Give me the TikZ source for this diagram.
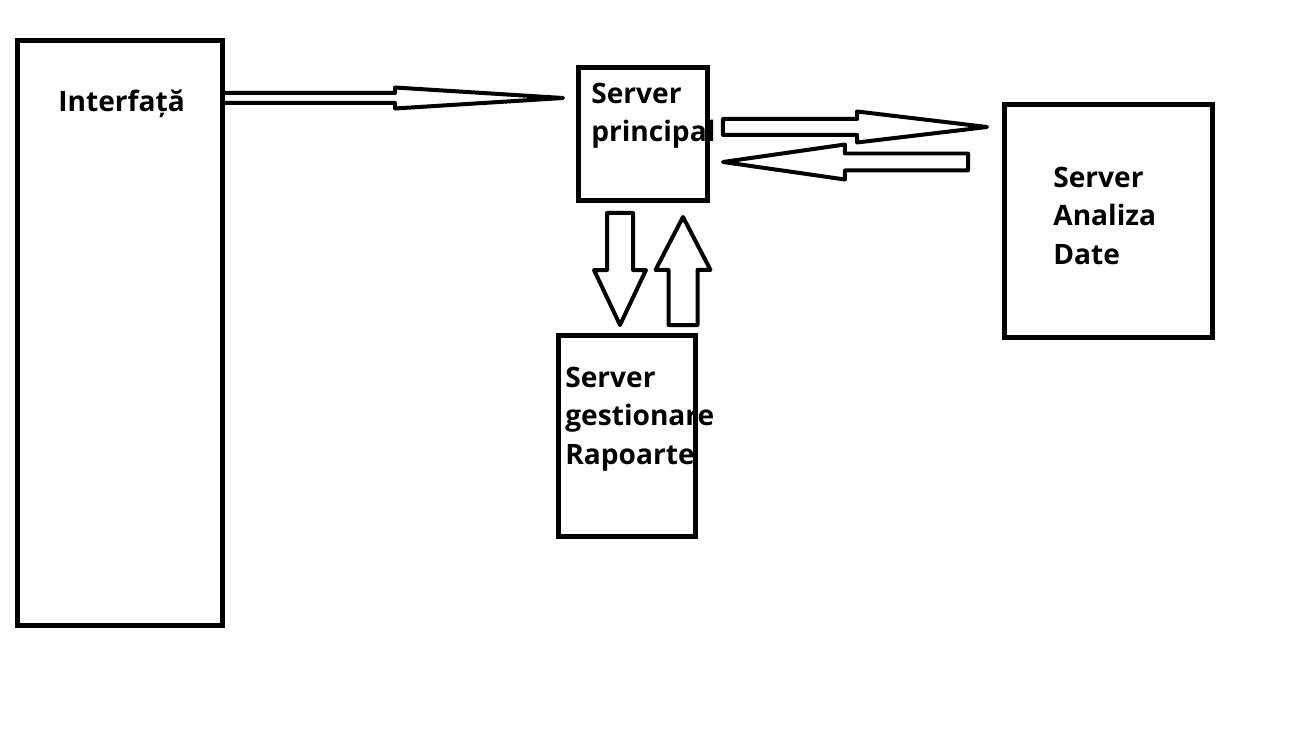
\documentclass[tikz,border=0pt]{standalone}
\usepackage{fontspec}
\setmainfont{Open Sans}
\usetikzlibrary{calc}

% hollow block arrow: start, tip, shaft half width, head half width, head length
\newcommand{\blockarrow}[5]{%
  \coordinate (ba-h) at ($(#2)!#5!(#1)$);
  \draw[blockarrow] ($(#1)!#3!90:(#2)$) -- ($(ba-h)!#3!90:(#2)$) -- ($(ba-h)!#4!90:(#2)$)
    -- (#2) -- ($(ba-h)!#4!-90:(#2)$) -- ($(ba-h)!#3!-90:(#2)$) -- ($(#1)!#3!-90:(#2)$) -- cycle;
}

\begin{document}
\begin{tikzpicture}
        [
           x=0.02cm, y=-0.02cm,
           box/.style={rectangle,draw,line width=0.1cm,inner sep=0pt,outer sep=0pt,anchor=north west},
           txt/.style={anchor=base west,align=left,inner sep=0pt,font=\fontsize{16}{21.9}\selectfont\bfseries},
           blockarrow/.style={draw,line width=0.08cm,line join=round}
        ]
        \useasboundingbox (0,0) rectangle (1298,753);
        \node[box,minimum width=4.1cm,minimum height=11.71cm] (iface) at (17.5,40.5) {};
        \node[box,minimum width=2.59cm,minimum height=2.66cm] (principal) at (578,67.5) {};
        \node[box,minimum width=4.16cm,minimum height=4.65cm] (analiza) at (1004.5,105) {};
        \node[box,minimum width=2.76cm,minimum height=4.03cm] (rapoarte) at (558,335) {};
        % labels sit on the baseline of their last line
        \node[txt] (iface-lbl) at ($(iface.north west)+(40.5,71.5)$) {Interfață};
        \node[txt] (principal-lbl) at ($(principal.north west)+(13,74)$) {Server\\principal};
        \node[txt] (analiza-lbl) at ($(analiza.north west)+(48.5,159)$) {Server\\Analiza\\Date};
        \node[txt] (rapoarte-lbl) at ($(rapoarte.north west)+(7,129)$) {Server\\gestionare\\Rapoarte};
        % end points of the arrows
        \coordinate (iface-out) at ($(iface.north east)+(0,57.5)$);
        \coordinate (principal-in) at ($(principal.north west)+(-15,30.5)$);
        \coordinate (principal-out) at ($(principal.north east)+(15.5,59.5)$);
        \coordinate (analiza-in) at ($(analiza.north west)+(-17.5,22)$);
        \coordinate (analiza-out) at ($(analiza.north west)+(-36.5,57)$);
        \coordinate (principal-back) at ($(principal.north east)+(15.5,94.5)$);
        \coordinate (principal-down) at ($(principal.south west)+(42,12.5)$);
        \coordinate (rapoarte-in) at ($(rapoarte.north west)+(62,-10)$);
        \coordinate (rapoarte-out) at ($(rapoarte.north west)+(125,-10)$);
        \coordinate (principal-up) at ($(principal.south west)+(105,16.5)$);
        \blockarrow{iface-out}{principal-in}{0.1cm}{0.21cm}{3.36cm}
        \blockarrow{principal-out}{analiza-in}{0.16cm}{0.31cm}{2.6cm}
        \blockarrow{analiza-out}{principal-back}{0.17cm}{0.35cm}{2.44cm}
        \blockarrow{principal-down}{rapoarte-in}{0.26cm}{0.52cm}{1.1cm}
        \blockarrow{rapoarte-out}{principal-up}{0.29cm}{0.55cm}{1.06cm}
\end{tikzpicture}
\end{document}
